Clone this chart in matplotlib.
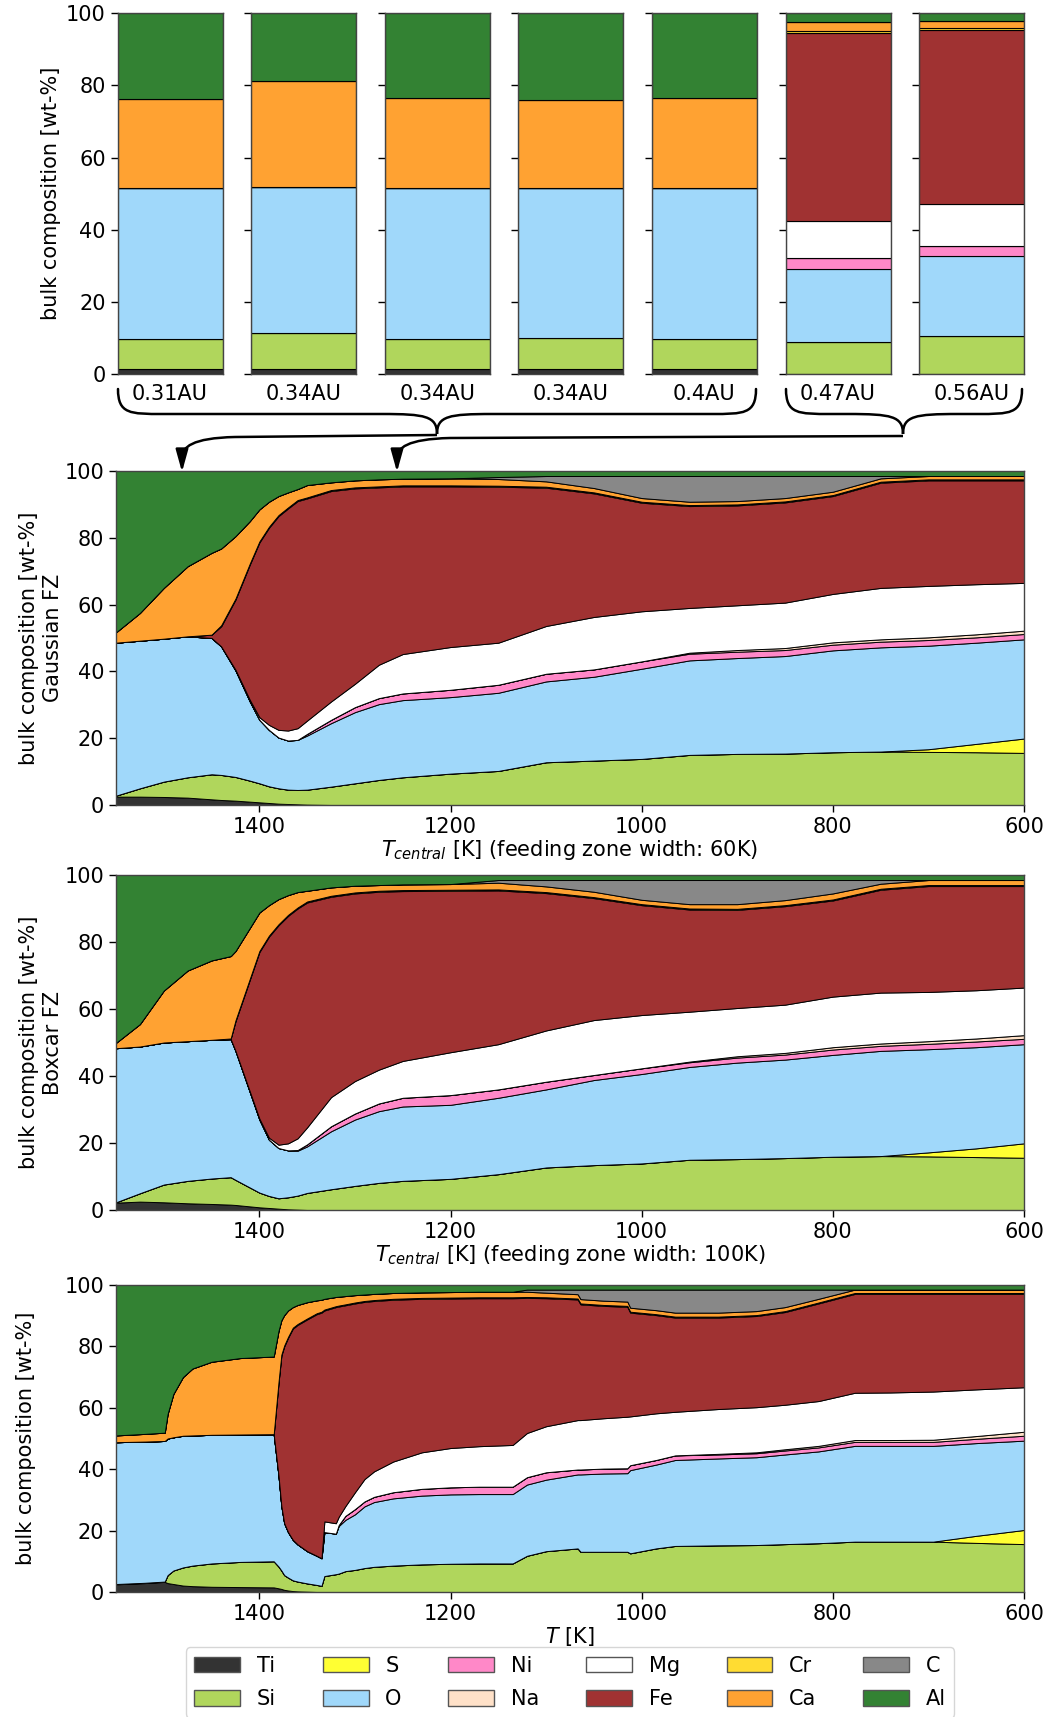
import numpy as np
import matplotlib
matplotlib.use('Agg')
import matplotlib.pyplot as plt
from matplotlib.path import Path
from matplotlib.patches import PathPatch, Patch

plt.rcParams['font.family'] = ['DejaVu Sans']
plt.rcParams['font.size'] = 15

# ---------------- data ----------------
elements = ['Ti', 'Si', 'S', 'O', 'Ni', 'Na', 'Mg', 'Fe', 'Cr', 'Ca', 'C', 'Al']
colors = ['#333333', '#b0d65c', '#ffff33', '#a0d8fa', '#ff88c8', '#ffe1c8',
          '#ffffff', '#a03232', '#ffdc32', '#ffa232', '#888888', '#338233']

# top bar panel (planet bulk compositions)
bar_labels = ['0.31AU', '0.34AU', '0.34AU', '0.34AU', '0.4AU', '0.47AU', '0.56AU']
bar_Ti = [1.5, 1.5, 1.5, 1.5, 1.5, 0, 0]
bar_Si = [8.3, 9.8, 8.3, 8.4, 8.3, 9.0, 10.6]
bar_S = [0, 0, 0, 0, 0, 0, 0]
bar_O = [41.9, 40.6, 41.8, 41.7, 41.8, 20.0, 22.1]
bar_Ni = [0, 0, 0, 0, 0, 3.2, 2.7]
bar_Na = [0, 0, 0, 0, 0, 0, 0]
bar_Mg = [0, 0, 0, 0, 0, 10.2, 11.7]
bar_Fe = [0, 0, 0, 0, 0, 52.0, 48.3]
bar_Cr = [0, 0, 0, 0, 0, 0.6, 0.5]
bar_Ca = [24.5, 29.2, 24.8, 24.4, 24.8, 2.6, 2.1]
bar_C = [0, 0, 0, 0, 0, 0, 0]
bar_Al = [23.8, 18.9, 23.6, 24.0, 23.6, 2.4, 2.0]

# Gaussian feeding zone (60 K)
g_T = [1550, 1525, 1500, 1475, 1450, 1440, 1425, 1410, 1400, 1390, 1380, 1370, 1360, 1350,
       1325, 1300, 1275, 1250, 1200, 1150, 1100, 1050, 1000, 950, 900, 850, 800, 750, 700,
       650, 600]
g_Ti = [2.5, 2.5, 2.4, 2.2, 1.7, 1.5, 1.3, 1.0, 0.8, 0.6, 0.4, 0.3, 0.2, 0.1] + [0] * 17
g_Si = [0.3, 2.5, 4.6, 6.1, 7.5, 7.5, 7.1, 6.3, 5.7, 5.0, 4.6, 4.3, 4.3, 4.5, 5.5, 6.5, 7.5,
        8.3, 9.4, 10.2, 12.8, 13.3, 13.8, 15.0, 15.3, 15.4, 15.8, 16.0, 15.9, 15.8, 15.6]
g_S = [0] * 28 + [0.8, 2.5, 4.3]
g_O = [45.8, 44.2, 42.8, 42.2, 40.8, 38.5, 31.9, 23.7, 19.0, 16.9, 15.2, 14.7, 15.0, 16.2,
       19.0, 21.3, 22.7, 23.1, 22.9, 23.4, 24.2, 25.1, 27.0, 28.3, 28.7, 29.2, 30.5, 31.2,
       31.0, 30.3, 29.7]
g_Ni = [0] * 13 + [0.5, 1.0, 1.5, 1.8, 2.0, 2.2, 2.4, 2.3, 2.2, 2.2, 2.0, 1.9, 1.8, 1.7,
                   1.7, 1.7, 1.6, 1.6]
g_Na = [0] * 23 + [0.3, 0.5, 0.6, 0.7, 0.7, 0.8, 0.9, 1.0]
g_Mg = [0] * 6 + [0.2, 0.5, 0.8, 1.5, 2.3, 3.0, 3.5, 4.0, 5.5, 7.0, 10.0, 11.8, 12.8, 12.6,
                  14.3, 15.7, 15.0, 13.4, 13.4, 13.6, 14.5, 15.4, 15.4, 15.0, 14.3]
g_Fe = [0, 0, 0, 0, 1.0, 6.0, 21.0, 40.5, 52.3, 59.0, 64.0, 66.5, 68.0, 66.5, 63.0, 58.5,
        53.1, 50.2, 48.1, 46.7, 41.4, 37.0, 32.5, 30.5, 29.9, 30.0, 29.3, 31.5, 31.6, 31.1,
        30.7]
g_Cr = [0] * 5 + [0.3] * 26
g_Ca = [3.1, 8.3, 15.2, 21.0, 24.5, 23.0, 18.7, 12.7, 9.6, 7.5, 5.7, 4.5, 3.3, 3.7, 2.3,
        2.1, 2.1, 2.0, 2.1, 2.0, 1.6, 1.3, 1.1, 1.0, 1.0, 1.0, 1.0, 1.0, 1.0, 1.0, 1.0]
g_C = [0] * 19 + [0.6, 1.6, 3.6, 6.6, 7.7, 7.5, 6.6, 4.7, 0.7, 0, 0, 0]
g_Al = [48.3, 42.5, 35.0, 28.5, 24.5, 23.2, 19.5, 15.0, 11.5, 9.2, 7.5, 6.4, 5.4, 4.2, 3.4,
        2.8, 2.5, 2.3, 2.2, 1.8] + [1.5] * 11

# Boxcar feeding zone (100 K)
b_T = [1550, 1525, 1500, 1475, 1450, 1430, 1425, 1400, 1390, 1380, 1370, 1360, 1350, 1325,
       1300, 1275, 1250, 1200, 1150, 1100, 1050, 1000, 950, 900, 850, 800, 750, 700, 650, 600]
b_Ti = [2.2, 2.5, 2.3, 2.0, 1.8, 1.6, 1.5, 0.8, 0.6, 0.4, 0.2, 0.1] + [0] * 18
b_Si = [0.1, 2.5, 5.3, 6.7, 7.6, 8.2, 7.5, 4.4, 3.6, 3.1, 3.6, 4.2, 5.1, 6.2, 7.2, 8.1, 8.7,
        9.3, 10.7, 12.7, 13.4, 13.9, 15.0, 15.2, 15.5, 15.9, 16.1, 16.0, 15.8, 15.6]
b_S = [0] * 27 + [1.2, 2.6, 4.3]
b_O = [46.0, 43.8, 42.4, 41.7, 41.4, 41.2, 38.5, 21.8, 16.8, 15.0, 14.0, 13.4, 13.9, 17.3,
       19.8, 21.4, 22.2, 22.1, 22.8, 23.3, 25.4, 26.7, 27.7, 28.8, 29.4, 30.4, 31.4, 30.8,
       30.2, 29.6]
b_Ni = [0] * 11 + [0.2, 0.6, 1.5, 1.8, 2.3, 2.6, 2.9, 2.5, 2.3, 1.5, 1.7, 1.4, 1.5, 1.5,
                   1.6, 1.5, 1.6, 1.7, 1.6]
b_Na = [0] * 22 + [0.2, 0.4, 0.5, 0.7, 0.7, 0.8, 0.9, 1.1]
b_Mg = [0] * 7 + [0.3, 0.6, 1.0, 2.1, 3.5, 5.1, 8.7, 9.7, 10.1, 11.0, 12.8, 13.5, 15.3,
                  16.4, 15.9, 14.9, 14.4, 14.4, 15.1, 15.2, 14.7, 14.4, 14.2]
b_Fe = [0, 0, 0, 0, 0, 0.2, 8.8, 49.7, 60.0, 65.5, 67.9, 68.6, 67.1, 59.8, 56.0, 53.1,
        50.7, 48.2, 45.9, 41.0, 36.4, 32.8, 30.5, 29.3, 29.4, 28.7, 30.7, 31.6, 31.1, 30.3]
b_Cr = [0] * 6 + [0.3] * 24
b_Ca = [1.6, 6.7, 15.5, 21.1, 23.7, 24.6, 20.7, 11.5, 9.1, 7.5, 5.9, 4.6, 3.2, 2.5, 2.0,
        1.7, 1.7, 1.7, 2.0, 1.7, 1.6, 1.3, 1.3, 1.4, 1.5, 1.8, 1.5, 1.5, 1.5, 1.5]
b_C = [0] * 18 + [0.8, 1.9, 3.5, 5.9, 7.2, 7.2, 6.0, 4.0, 1.1, 0, 0, 0]
b_Al = [50.1, 44.5, 34.5, 28.5, 25.5, 24.2, 22.7, 11.2, 9.0, 7.2, 6.0, 5.1, 4.7, 3.7, 3.2,
        3.0, 2.8, 2.7] + [1.5] * 12

# Local temperature T
t_T = [1550, 1520, 1499, 1496, 1490, 1480, 1470, 1450, 1420, 1385, 1380, 1377, 1374, 1370,
       1365, 1360, 1350, 1340, 1335, 1332, 1320, 1317, 1310, 1300, 1290, 1280, 1260, 1230,
       1200, 1170, 1135, 1120, 1100, 1067, 1064, 1040, 1015, 1012, 985, 965, 920, 880, 850,
       815, 777, 740, 695, 650, 600]
t_Ti = [2.5, 2.9, 3.3, 2.9, 2.6, 2.1, 1.9, 1.7, 1.6, 1.5, 1.2, 1.0, 0.7, 0.5, 0.3, 0.2,
        0.1] + [0] * 32
t_Si = [0.1, 0.1, 0.1, 2.6, 4.4, 5.9, 6.7, 7.6, 8.2, 8.5, 7.1, 6.0, 4.8, 4.2, 3.5, 3.2, 2.7,
        2.3, 2.0, 5.2, 5.8, 6.0, 6.8, 7.2, 7.8, 8.2, 8.6, 9.0, 9.2, 9.3, 9.3, 11.8, 13.3,
        14.2, 13.1, 13.1, 13.1, 12.6, 14.2, 15.0, 15.2, 15.3, 15.6, 15.9, 16.4, 16.4, 16.4,
        16.0, 15.6]
t_S = [0] * 47 + [2.3, 4.6]
t_O = [46.2, 46.0, 45.8, 44.5, 43.4, 42.9, 42.4, 41.9, 41.5, 41.4, 29.7, 21.0, 16.9, 14.8,
       13.2, 12.1, 10.5, 9.5, 9.0, 14.3, 13.2, 15.5, 16.7, 18.1, 20.1, 21.1, 21.9, 22.4,
       22.6, 22.6, 22.6, 23.2, 23.3, 24.1, 25.2, 25.5, 25.6, 27.1, 27.3, 28.0, 28.3, 28.6,
       29.2, 29.9, 31.2, 31.2, 31.2, 30.2, 29.1]
t_Ni = [0] * 21 + [0.3, 1.3, 1.7, 1.6, 1.7, 2.0, 2.2, 2.3, 2.4, 2.4, 2.4, 2.4, 1.6, 1.6,
                   1.6, 1.6, 1.6, 1.5, 1.5, 1.3, 1.3, 1.3, 1.3, 1.3, 1.3, 1.3, 1.4, 1.6]
t_Na = [0] * 40 + [0.2, 0.3, 0.4, 0.5, 0.6, 0.6, 0.7, 0.9, 1.3]
t_Mg = [0] * 19 + [3.5, 3.4, 2.7, 3.2, 5.5, 7.3, 8.3, 10.0, 11.9, 12.8, 13.2, 13.6, 14.4,
                   15.0, 16.1, 16.1, 16.4, 16.8, 15.9, 15.2, 14.2, 14.6, 14.7, 14.5, 14.6,
                   15.4, 15.5, 15.7, 15.2, 14.5]
t_Fe = [0] * 10 + [30.0, 49.0, 57.6, 63.3, 68.8, 71.5, 75.5, 78.7, 80.0, 68.7, 70.4, 68.5,
                   65.4, 61.5, 57.7, 55.5, 52.7, 50.0, 48.7, 48.2, 47.8, 44.0, 41.7, 39.3,
                   37.7, 36.6, 35.8, 33.8, 32.0, 30.7, 29.8, 29.7, 30.2, 31.8, 32.2, 32.1,
                   31.8, 31.1, 30.4]
t_Cr = [0] * 10 + [0.3] * 39
t_Ca = [2.2, 2.5, 2.7, 8.0, 14.1, 19.1, 21.8, 23.8, 24.9, 25.3, 16.7, 11.2, 9.9, 8.6, 6.7,
        6.2, 5.3, 4.2, 3.9, 3.5, 3.0, 2.9, 2.7, 2.4, 2.1, 2.0, 1.9, 1.8, 1.8, 1.8, 1.8, 1.7,
        1.5, 1.4, 1.4, 1.4, 1.4, 1.3, 1.3, 1.3, 1.3, 1.3, 1.3, 1.2, 1.1, 1.1, 1.1, 1.1, 1.1]
t_C = [0] * 31 + [0.7, 1.0, 1.5, 3.1, 3.6, 3.9, 5.9, 6.7, 7.5, 7.5, 7.0, 5.7, 3.0, 0, 0, 0,
                  0, 0]
t_Al = [49.0, 48.5, 48.1, 42.0, 35.5, 30.0, 27.2, 25.0, 23.8, 23.3, 15.0, 11.5, 9.8, 8.3,
        7.2, 6.5, 5.6, 5.0, 4.8, 4.5, 3.9, 3.8, 3.6, 3.3, 3.1, 2.9, 2.6, 2.4, 2.3, 2.2,
        2.2] + [1.5] * 18

bars = [bar_Ti, bar_Si, bar_S, bar_O, bar_Ni, bar_Na, bar_Mg, bar_Fe, bar_Cr, bar_Ca, bar_C, bar_Al]
gauss = [g_Ti, g_Si, g_S, g_O, g_Ni, g_Na, g_Mg, g_Fe, g_Cr, g_Ca, g_C, g_Al]
boxcar = [b_Ti, b_Si, b_S, b_O, b_Ni, b_Na, b_Mg, b_Fe, b_Cr, b_Ca, b_C, b_Al]
local = [t_Ti, t_Si, t_S, t_O, t_Ni, t_Na, t_Mg, t_Fe, t_Cr, t_Ca, t_C, t_Al]

# ---------------- layout ----------------
W, H = 1051, 1717
fig = plt.figure(figsize=(W / 100, H / 100), dpi=100)


def box(l, t, r, b):
    return [l / W, 1 - b / H, (r - l) / W, (b - t) / H]


spine_col = '#444444'


def style_axes(ax):
    for s in ax.spines.values():
        s.set_color(spine_col)
        s.set_linewidth(1.0)
    ax.tick_params(colors='black', width=1.0, length=5)


# bars
bar_axes = []
for i in range(7):
    left = 117.6 + i * 133.6
    ax = fig.add_axes(box(left, 13.3, left + 105, 374))
    bottom = 0.0
    for el, vals, c in zip(elements, bars, colors):
        ax.bar(0, vals[i], bottom=bottom, width=1.0, color=c, edgecolor='black',
               linewidth=0.8)
        bottom += vals[i]
    ax.set_xlim(-0.5, 0.5)
    ax.set_ylim(0, 100)
    ax.set_xticks([])
    ax.set_yticks([0, 20, 40, 60, 80, 100])
    if i > 0:
        ax.set_yticklabels([])
    ax.set_xlabel(bar_labels[i], labelpad=7)
    style_axes(ax)
    bar_axes.append(ax)
bar_axes[0].set_ylabel('bulk composition [wt-%]')
bar_axes[0].yaxis.set_label_coords((61 - 117.6) / 105, 0.5)

panels = [
    (g_T, gauss, (116, 471, 1024, 805),
     '$T_{central}$ [K] (feeding zone width: 60K)',
     'bulk composition [wt-%]\nGaussian FZ', (63 - 116) / 908),
    (b_T, boxcar, (116, 875, 1024, 1210),
     '$T_{central}$ [K] (feeding zone width: 100K)',
     'bulk composition [wt-%]\nBoxcar FZ', (63 - 116) / 908),
    (t_T, local, (116, 1285, 1024, 1592), '$T$ [K]',
     'bulk composition [wt-%]', (36 - 116) / 908),
]
for T, series, bb, xl, yl, ylx in panels:
    ax = fig.add_axes(box(*bb))
    ax.stackplot(T, *series, colors=colors, edgecolor='black', linewidth=0.7)
    ax.set_xlim(1550, 600)
    ax.set_ylim(0, 100)
    ax.set_xticks([1400, 1200, 1000, 800, 600])
    ax.set_yticks([0, 20, 40, 60, 80, 100])
    ax.set_xlabel(xl, labelpad=1)
    ax.set_ylabel(yl, linespacing=1.25)
    ax.yaxis.set_label_coords(ylx, 0.5)
    style_axes(ax)

# legend
handles = [Patch(facecolor=c, edgecolor='#555555', linewidth=1.0, label=e)
           for e, c in zip(elements, colors)]
fig.legend(handles=handles, loc='upper center', ncol=6,
           bbox_to_anchor=(570 / W, 1 - 1637 / H), handlelength=2.2,
           handleheight=0.75, columnspacing=2.25, handletextpad=0.8,
           labelspacing=0.65, frameon=True, fancybox=True, edgecolor='#cccccc',
           borderpad=0.4)

# braces and arrows (drawn in figure pixel coordinates)
ov = fig.add_axes([0, 0, 1, 1], zorder=10)
ov.set_xlim(0, W)
ov.set_ylim(H, 0)
ov.axis('off')
ov.patch.set_alpha(0)


def brace(x0, x1, xc, y0, y1, y2):
    verts = [(x0, y0), (x0, y1), (x0 + 12, y1), (x0 + 45, y1),
             (xc - 55, y1),
             (xc - 12, y1), (xc, y1 + 2), (xc, y2),
             (xc, y1 + 2), (xc + 12, y1), (xc + 55, y1),
             (x1 - 45, y1),
             (x1 - 12, y1), (x1, y1), (x1, y0)]
    codes = [Path.MOVETO, Path.CURVE4, Path.CURVE4, Path.CURVE4,
             Path.LINETO,
             Path.CURVE4, Path.CURVE4, Path.CURVE4,
             Path.CURVE4, Path.CURVE4, Path.CURVE4,
             Path.LINETO,
             Path.CURVE4, Path.CURVE4, Path.CURVE4]
    ov.add_patch(PathPatch(Path(verts, codes), fill=False, lw=1.8, ec='black',
                           capstyle='round'))


brace(118, 756, 437, 389, 414, 434)
brace(786, 1022, 903, 389, 414, 434)


def arrow_line(xs, ys, xbend, xa, ya):
    verts = [(xs, ys), (xbend, ys + 2), (xa + 10, ys + 3), (xa, ys + 12), (xa, ya - 14)]
    codes = [Path.MOVETO, Path.LINETO, Path.CURVE4, Path.CURVE4, Path.CURVE4]
    ov.add_patch(PathPatch(Path(verts, codes), fill=False, lw=1.8, ec='black'))
    ov.annotate('', xy=(xa, ya), xytext=(xa, ya - 16),
                arrowprops=dict(arrowstyle='-|>,head_length=0.9,head_width=0.25',
                                color='black', lw=1.8, shrinkA=0, shrinkB=0))


arrow_line(437, 435, 235, 182, 472)
arrow_line(903, 436, 450, 397, 472)

fig.savefig('out.png', dpi=100)
